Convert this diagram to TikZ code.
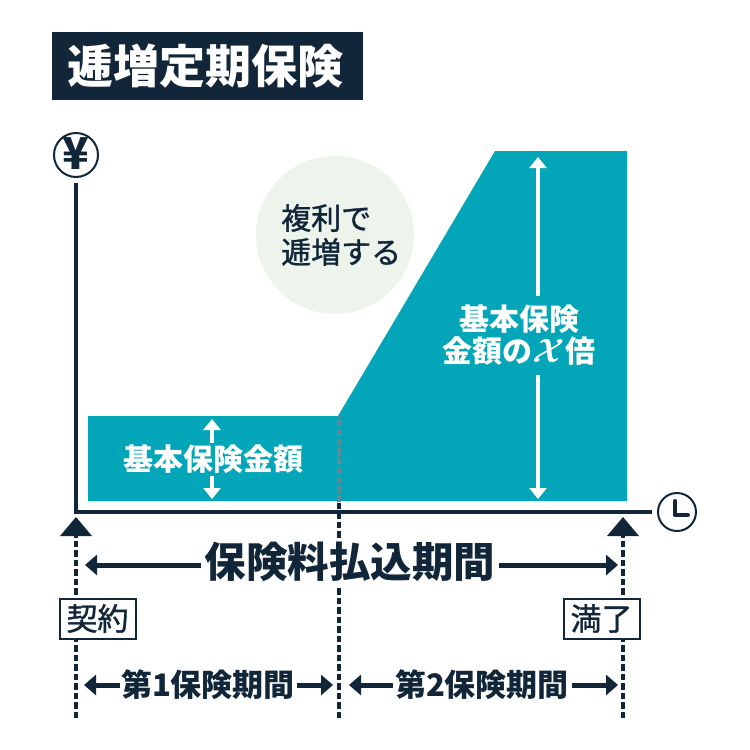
\documentclass[tikz,border=0pt]{standalone}
\usepackage{fontspec}
\setmainfont{Noto Sans CJK JP}
\newfontfamily\jpmedium[FakeBold=1.2]{Noto Sans CJK JP}
\usepackage{tikz}
\usetikzlibrary{arrows.meta}
\definecolor{navy}{HTML}{12263A}
\definecolor{teal}{HTML}{03A6B8}
\definecolor{pale}{HTML}{EDF4EC}
\definecolor{dashgrey}{HTML}{5F8A96}
\newcommand{\jpsize}[1]{\fontsize{#1}{#1}\selectfont}
\tikzset{
  axis/.style={navy,line width=4pt},
  dashline/.style={navy,line width=3.5pt,dash pattern=on 6.5pt off 3pt},
  period/.style={navy,line width=5pt,-{Triangle[width=20pt,length=12pt]}},
  whitearrow/.style={white,line width=4pt,-{Triangle[width=17pt,length=11pt]}},
  badge/.style={draw=navy,line width=2pt,fill=white,text=navy,minimum width=76pt,minimum height=40pt,inner sep=0pt},
  ring/.style={circle,draw=navy,line width=2pt,fill=white,inner sep=0pt},
  onteal/.style={text=white,font=\jpsize{30}\bfseries,inner sep=0pt},
  rowlabel/.style={text=navy,font=\jpsize{31}\bfseries,inner sep=0pt}
}
\begin{document}
\begin{tikzpicture}[x=1pt,y=-1pt]
        \useasboundingbox (0,0) rectangle (750,750);
        \node[fill=navy,text=white,minimum width=311pt,minimum height=68pt,inner sep=0pt] (title) at (207.5,66) {};
        \node[text=white,inner sep=0pt,font=\jpsize{46}\bfseries] (titletext) at (205.5,66) {逓増定期保険};
        % filled area and bubble
        \fill[teal] (88,416) -- (338,416) -- (495,151) -- (627,151) -- (627,501) -- (88,501) -- cycle;
        \node[circle,fill=pale,minimum size=158pt,inner sep=0pt] (bubble) at (335,235) {};
        \node[anchor=west,align=left,text=navy,inner sep=0pt,font=\jpsize{30}\jpmedium] (growth) at (281,235) {複利で\\[4pt]逓増する};
        % axes
        \node[ring,minimum size=44pt] (yen) at (76,155) {};
        \node[text=navy,inner sep=0pt,font=\jpsize{44}\bfseries] (yenmark) at (76,154) {¥};
        \node[ring,minimum size=38pt] (clock) at (677,512) {};
        \draw[navy,line width=4pt,line cap=round,line join=round] (675,501) -- (675,515) -- (688,515);
        \coordinate (origin) at (76,512);
        \coordinate (ytop) at (76,183);
        \coordinate (xend) at (652,512);
        % time marks
        \coordinate (startlow) at (76,718);
        \coordinate (starttip) at (76,517);
        \coordinate (endlow) at (623,718);
        \coordinate (endtip) at (623,517);
        \coordinate (midlow) at (339,718);
        \coordinate (midedge) at (339,502);
        \coordinate (midtop) at (339,416);
        \draw[dashline] (startlow) -- (76,536);
        \draw[dashline] (endlow) -- (623,536);
        \fill[navy] (starttip) -- (92,536) -- (60,536) -- cycle;
        \fill[navy] (endtip) -- (639,536) -- (607,536) -- cycle;
        \draw[dashline] (midlow) -- (midedge);
        \draw[dashline,dashgrey] (midedge) -- (midtop);
        \draw[axis,line join=miter] (ytop) -- (origin) -- (xend);
        \node[badge] (contract) at (97.5,618.5) {\jpsize{31}\jpmedium 契約};
        \node[badge] (maturity) at (601.5,618.5) {\jpsize{31}\jpmedium 満了};
        % labels on the area
        \node[onteal] (base) at (213,459) {基本保険金額};
        \coordinate (basetop) at (212,419);
        \coordinate (basebot) at (212,499);
        \draw[whitearrow] (212,443) -- (basetop);
        \draw[whitearrow] (212,476) -- (basebot);
        \node[onteal,align=center] (multiple) at (519,335) {基本保険\\[2pt]金額の\smash{\scalebox{1.35}{\boldmath$\mathcal{X}$}}倍};
        \coordinate (multtop) at (538,157);
        \coordinate (multbot) at (538,499);
        \draw[whitearrow] (538,296) -- (multtop);
        \draw[whitearrow] (538,375) -- (multbot);
        % periods
        \node[text=navy,fill=white,inner sep=0pt,minimum width=298pt,minimum height=46pt,font=\jpsize{41.5}\bfseries] (payment) at (350,562) {保険料払込期間};
        \coordinate (payleft) at (85,565);
        \coordinate (payright) at (618,565);
        \draw[period] (payment.west |- payleft) -- (payleft);
        \draw[period] (payment.east |- payright) -- (payright);
        \node[rowlabel] (first) at (208,685) {第1保険期間};
        \node[rowlabel] (second) at (482,685) {第2保険期間};
        \coordinate (firstleft) at (84,685);
        \coordinate (firstright) at (333,685);
        \coordinate (secondleft) at (349,685);
        \coordinate (secondright) at (618,685);
        \draw[period] (120,685) -- (firstleft);
        \draw[period] (297,685) -- (firstright);
        \draw[period] (393,685) -- (secondleft);
        \draw[period] (572,685) -- (secondright);
\end{tikzpicture}
\end{document}
